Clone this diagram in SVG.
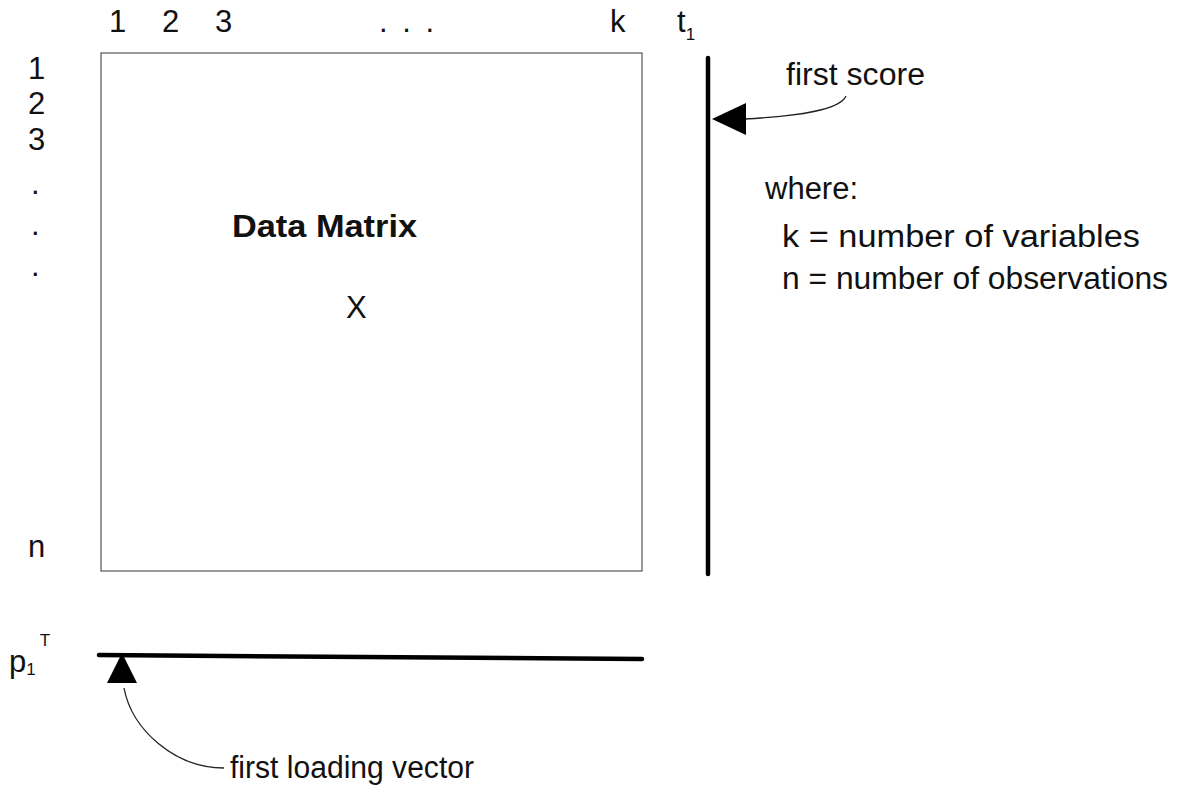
<svg xmlns="http://www.w3.org/2000/svg" width="1186" height="792" viewBox="0 0 1186 792">
  <defs>
    <style>
      text { font-family: "Liberation Sans", Arial, sans-serif; font-size: 31px; fill: #111; }
      .bold { font-weight: bold; }
      .sub { font-size: 17px; }
      .matrix { fill: none; stroke: #555; stroke-width: 1.2; }
      .vec { stroke: #000; stroke-width: 4.5; stroke-linecap: round; }
      .lead { fill: none; stroke: #222; stroke-width: 1.3; }
      .head { fill: #000; }
    </style>
  </defs>
  <rect width="1186" height="792" fill="#fff"/>

  <!-- data matrix X -->
  <g id="matrix">
    <rect class="matrix" x="101" y="53" width="541" height="518"/>
    <text x="232" y="237" class="bold" textLength="185" lengthAdjust="spacingAndGlyphs">Data Matrix</text>
    <text x="346" y="318">X</text>
  </g>

  <!-- column indices -->
  <g id="columns">
    <text x="109" y="32">1</text>
    <text x="162" y="32">2</text>
    <text x="215" y="32">3</text>
    <text x="379" y="32" letter-spacing="3">. . .</text>
    <text x="610" y="32">k</text>
  </g>

  <!-- row indices -->
  <g id="rows">
    <text x="28" y="79">1</text>
    <text x="28" y="114">2</text>
    <text x="28" y="150">3</text>
    <text x="31" y="194">.</text>
    <text x="31" y="235">.</text>
    <text x="31" y="276">.</text>
    <text x="28" y="557">n</text>
  </g>

  <!-- score vector t1 -->
  <g id="score">
    <line class="vec" x1="708" y1="58" x2="708" y2="574"/>
    <text x="677" y="32">t<tspan class="sub" dy="8">1</tspan></text>
  </g>

  <!-- loading vector p1T -->
  <g id="loading">
    <line class="vec" x1="99" y1="655" x2="642" y2="659"/>
    <text x="9" y="672">p<tspan class="sub" dy="3">1</tspan><tspan class="sub" dx="4" dy="-29">T</tspan></text>
  </g>

  <!-- explanation -->
  <g id="legend">
    <text x="765" y="199">where:</text>
    <text x="782" y="247" textLength="358" lengthAdjust="spacingAndGlyphs">k = number of variables</text>
    <text x="782" y="289" textLength="386" lengthAdjust="spacingAndGlyphs">n = number of observations</text>
  </g>

  <!-- callouts -->
  <g id="connectors">
    <path class="lead" d="M745 119 C 800 116, 840 110, 846 96"/>
    <polygon class="head" points="712,119 746,103 746,135"/>
    <text x="786" y="85" textLength="139" lengthAdjust="spacingAndGlyphs">first score</text>

    <path class="lead" d="M124 688 C 132 730, 175 768, 224 768"/>
    <polygon class="head" points="122,653 107,683 137,683"/>
    <text x="230" y="778" textLength="244" lengthAdjust="spacingAndGlyphs">first loading vector</text>
  </g>
</svg>
